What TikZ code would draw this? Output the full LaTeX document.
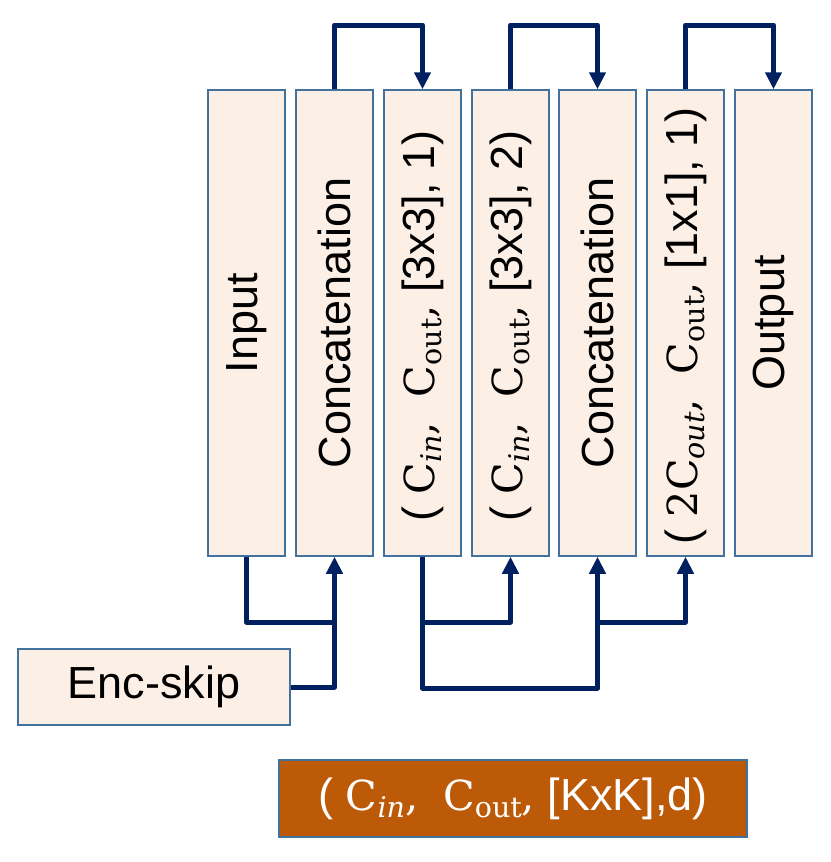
\documentclass[tikz,border=0pt]{standalone}
\usepackage{fontspec}
\setmainfont{Liberation Sans}
\newfontfamily\serf[Scale=0.92]{DejaVu Serif}
\usetikzlibrary{arrows.meta}
\definecolor{boxfill}{HTML}{FCEFE6}
\definecolor{boxline}{HTML}{41719C}
\definecolor{navy}{HTML}{002060}
\definecolor{rust}{HTML}{BC5A08}
\newcommand{\Csub}[1]{{\serf C\raisebox{-7pt}{\fontsize{31}{31}\selectfont #1}}}
\newcommand{\cma}{{\serf ,}}
\tikzset{
  col/.style={draw=boxline, line width=1.5pt, fill=boxfill, minimum width=77pt, minimum height=466pt, inner sep=0pt},
  wide/.style={draw=boxline, line width=1.5pt, fill=boxfill, inner sep=0pt},
  conn/.style={draw=navy, line width=5pt, line join=round},
  arr/.style={conn, -{Triangle[length=17pt,width=16pt]}},
}
\begin{document}
\begin{tikzpicture}[x=1pt,y=-1pt, font=\fontsize{45}{50}\selectfont]
\useasboundingbox (0,0) rectangle (830,862);
\coordinate (top) at (0,25);
\coordinate (mid) at (0,622);
\coordinate (low) at (0,688);
\node[col] (c1) at (246.5,323) {\rotatebox{90}{Input}};
\node[col] (c2) at (334.5,323) {\rotatebox{90}{Concatenation}};
\node[col] (c3) at (422.5,323) {\rotatebox{90}{( \Csub{\itshape in}\cma\ \ \Csub{out}\cma\ [3x3], 1)\hspace{6pt}}};
\node[col] (c4) at (510.5,323) {\rotatebox{90}{( \Csub{\itshape in}\cma\ \ \Csub{out}\cma\ [3x3], 2)\hspace{6pt}}};
\node[col] (c5) at (597.5,323) {\rotatebox{90}{Concatenation}};
\node[col] (c6) at (685.5,323) {\rotatebox{90}{( {\serf 2}\Csub{\itshape out}\cma\ \ \Csub{out}\cma\ [1x1], 1)\hspace{6pt}}};
\node[col] (c7) at (773.5,323) {\rotatebox{90}{Output}};
\node[wide, minimum width=272pt, minimum height=76pt] (enc) at (154,687) {Enc-skip};
\node[draw=boxline, line width=1.5pt, fill=rust, text=white, minimum width=468pt, minimum height=77pt, inner sep=0pt] (key) at (513,798.5) {( \Csub{\itshape in}\cma\ \ \Csub{out}\cma\ [KxK],d)};
% top skips
\draw[arr] (c2.north) -- (c2.north |- top) -| (c3.north);
\draw[arr] (c4.north) -- (c4.north |- top) -| (c5.north);
\draw[arr] (c6.north) -- (c6.north |- top) -| (c7.north);
% bottom connections
\draw[conn] (c1.south) |- (c2.south |- mid);
\draw[arr] (enc.east) -| (c2.south);
\draw[arr] (c3.south) -- (c3.south |- low) -| (c5.south);
\draw[arr] (c3.south |- mid) -| (c4.south);
\draw[arr] (c5.south |- mid) -| (c6.south);
\end{tikzpicture}
\end{document}
